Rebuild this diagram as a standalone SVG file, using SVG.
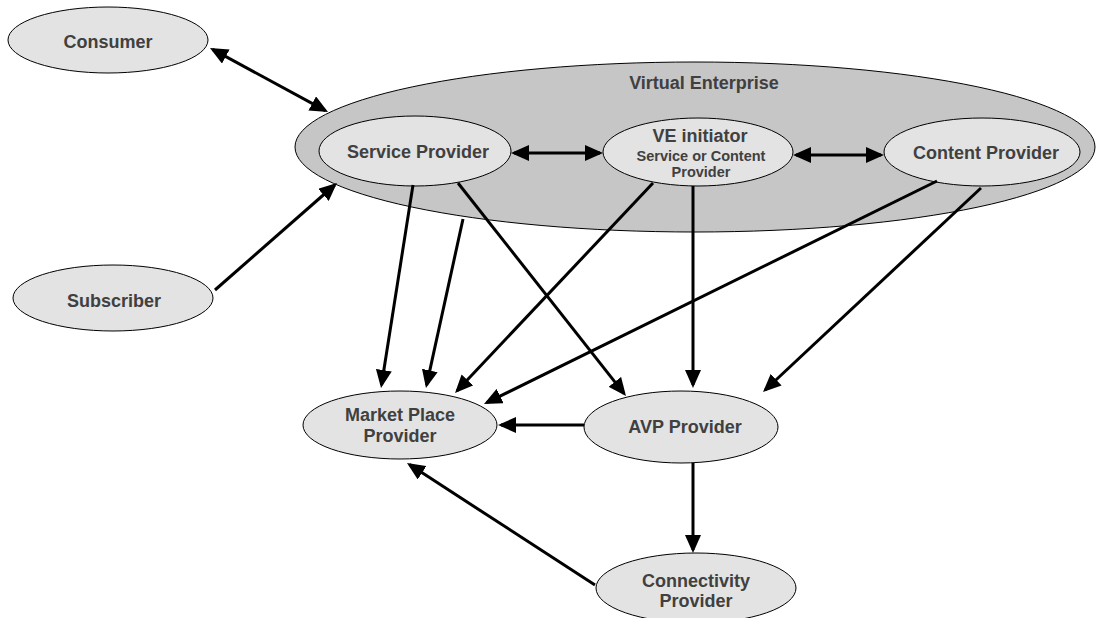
<svg xmlns="http://www.w3.org/2000/svg" width="1098" height="618" viewBox="0 0 1098 618">
<style>
  .node { fill: #e3e3e3; stroke: #000; stroke-width: 1; }
  .ve { fill: #c6c6c6; stroke: #000; stroke-width: 1; }
  .lbl { font-family: "Liberation Sans", Arial, sans-serif; font-weight: bold; font-size: 18px; fill: #404040; text-anchor: middle; }
  .sm { font-size: 14.5px; }
  .edge { stroke: #000; stroke-width: 3; fill: none; marker-end: url(#ah); }
  .both { marker-start: url(#ah); }
</style>
<defs>
  <marker id="ah" viewBox="0 0 18 16" refX="15" refY="8" markerWidth="18" markerHeight="16" markerUnits="userSpaceOnUse" orient="auto-start-reverse">
    <path d="M0,0 L18,8 L0,16 z" fill="#000"/>
  </marker>
</defs>
<rect width="1098" height="618" fill="#fff"/>
<g id="virtual-enterprise">
  <ellipse class="ve" cx="695" cy="147" rx="400" ry="85"/>
  <text class="lbl" x="704" y="89">Virtual Enterprise</text>
</g>
<g id="consumer">
  <ellipse class="node" cx="108" cy="40" rx="100" ry="33"/>
  <text class="lbl" x="108" y="48">Consumer</text>
</g>
<g id="subscriber">
  <ellipse class="node" cx="113" cy="298" rx="100" ry="33"/>
  <text class="lbl" x="114" y="307">Subscriber</text>
</g>
<g id="service-provider">
  <ellipse class="node" cx="415" cy="151" rx="96" ry="35"/>
  <text class="lbl" x="418" y="158">Service Provider</text>
</g>
<g id="ve-initiator">
  <ellipse class="node" cx="698" cy="152" rx="95" ry="34"/>
  <text class="lbl" x="700" y="142">VE initiator</text>
  <text class="lbl sm" x="701" y="161">Service or Content</text>
  <text class="lbl sm" x="701" y="177">Provider</text>
</g>
<g id="content-provider">
  <ellipse class="node" cx="982" cy="152" rx="98" ry="34"/>
  <text class="lbl" x="986" y="159">Content Provider</text>
</g>
<g id="market-place-provider">
  <ellipse class="node" cx="400" cy="425" rx="97" ry="34"/>
  <text class="lbl" x="400" y="421">Market Place</text>
  <text class="lbl" x="400" y="442">Provider</text>
</g>
<g id="avp-provider">
  <ellipse class="node" cx="681" cy="427" rx="97" ry="36"/>
  <text class="lbl" x="685" y="433">AVP Provider</text>
</g>
<g id="connectivity-provider">
  <ellipse class="node" cx="696" cy="588" rx="100" ry="35"/>
  <text class="lbl" x="696" y="587">Connectivity</text>
  <text class="lbl" x="696" y="607">Provider</text>
</g>
<g id="connectors">
  <line class="edge both" x1="212.6" y1="49.4" x2="325.4" y2="110.6"/>
  <line class="edge" x1="215" y1="290" x2="334.7" y2="185"/>
  <line class="edge both" x1="514" y1="153" x2="600" y2="153"/>
  <line class="edge both" x1="796" y1="155" x2="881" y2="155"/>
  <line class="edge" x1="413" y1="185" x2="381.5" y2="385"/>
  <line class="edge" x1="463" y1="219" x2="426.6" y2="385.1"/>
  <line class="edge" x1="458" y1="183" x2="624.1" y2="393.6"/>
  <line class="edge" x1="653" y1="183" x2="457.1" y2="390.8"/>
  <line class="edge" x1="693" y1="186" x2="693" y2="385"/>
  <line class="edge" x1="937" y1="181" x2="486.7" y2="402.7"/>
  <line class="edge" x1="981" y1="188" x2="765.2" y2="390"/>
  <line class="edge" x1="584" y1="425" x2="501" y2="425"/>
  <line class="edge" x1="693" y1="463" x2="693" y2="550"/>
  <line class="edge" x1="595" y1="585" x2="409.5" y2="464.6"/>
</g>
</svg>
